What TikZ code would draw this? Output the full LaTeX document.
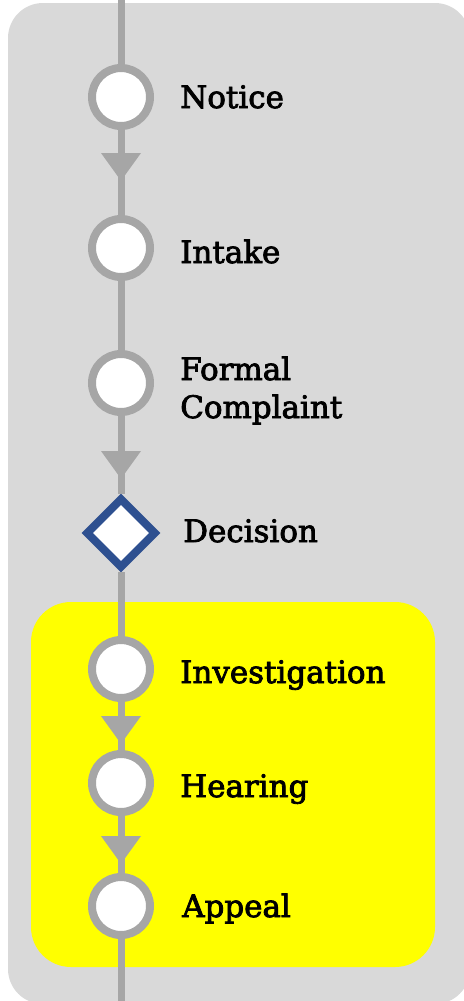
\documentclass[tikz,border=0pt]{standalone}
\usepackage{fontspec}
\setmainfont{DejaVu Serif}
\newfontfamily\lblfont{DejaVu Serif}[BoldFont={DejaVu Serif},BoldFeatures={FakeBold=2.6}]
\usetikzlibrary{arrows.meta,shapes.geometric,decorations.markings}
\definecolor{bggray}{HTML}{D9D9D9}
\definecolor{linegray}{HTML}{A6A6A6}
\definecolor{hiyellow}{HTML}{FFFF00}
\definecolor{decblue}{HTML}{2E5090}
\begin{document}
\begin{tikzpicture}[x=0.75pt,y=-0.75pt,
  stepnode/.style={circle,draw=linegray,fill=white,line width=6pt,minimum size=43.5pt,inner sep=0pt},
  decnode/.style={diamond,aspect=1,draw=decblue,fill=white,line width=6pt,minimum width=53pt,minimum height=53pt,inner sep=0pt},
  lbl/.style={anchor=base west,inner sep=0pt,font=\lblfont\bfseries\fontsize{23.2}{28.5}\selectfont,align=left},
  flow/.style={draw=linegray,line width=5.25pt},
  arrowat/.style={postaction={decorate},decoration={markings,mark=at position #1 with {\arrow{Triangle[width=28.5pt,length=21pt]}}}}
]
\useasboundingbox (0,0) rectangle (464,1001);
\fill[bggray,rounded corners=26.25pt] (8,3) rectangle (470,1004);
\fill[hiyellow,rounded corners=30pt] (31,602) rectangle (435,967);

\coordinate (top) at (121,0);
\coordinate (bot) at (121,1001);
\node[stepnode] (n1) at (121,97) {};
\node[stepnode] (n2) at (121,248) {};
\node[stepnode] (n3) at (121,383) {};
\node[decnode]  (n4) at (121,533) {};
\node[stepnode] (n5) at (121,669) {};
\node[stepnode] (n6) at (121,783) {};
\node[stepnode] (n7) at (121,906) {};

\node[lbl] (l1) at (180,108) {Notice};
\node[lbl] (l2) at (180,263) {Intake};
\node[lbl] (l3) at (180,418) {Formal\\Complaint};
\node[lbl] (l4) at (183,542) {Decision};
\node[lbl] (l5) at (180,683) {Investigation};
\node[lbl] (l6) at (180,797) {Hearing};
\node[lbl] (l7) at (182,917) {Appeal};

\draw[flow] (top) -- (n1);
\draw[flow,arrowat=38.25pt] (n1) -- (n2);
\draw[flow] (n2) -- (n3);
\draw[flow,arrowat=47.25pt] (n3) -- (n4);
\draw[flow] (n4) -- (n5);
\draw[flow,arrowat=31.5pt] (n5) -- (n6);
\draw[flow,arrowat=36pt] (n6) -- (n7);
\draw[flow] (n7) -- (bot);
\end{tikzpicture}
\end{document}
